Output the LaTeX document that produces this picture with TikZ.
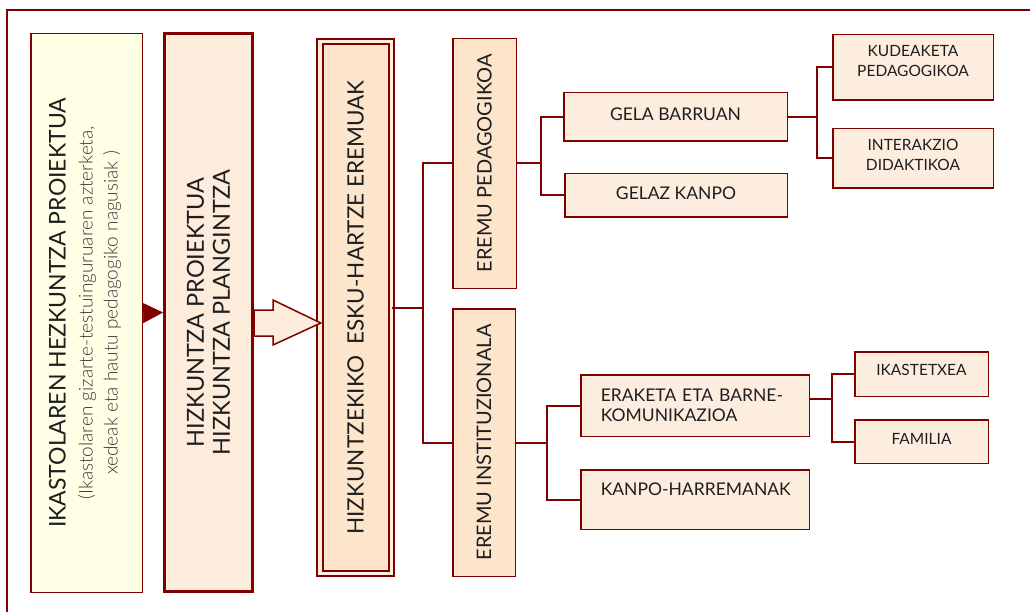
\documentclass[tikz,border=0pt]{standalone}
\usepackage{fontspec}
\setmainfont{Lato}
\newfontfamily\lightfont{Lato Light}
\usetikzlibrary{arrows.meta,calc}

\definecolor{frame}{HTML}{800000}
\definecolor{ink}{HTML}{1E1E1E}
\definecolor{softink}{HTML}{3A3A3A}
\definecolor{cream}{HTML}{FFFFE6}
\definecolor{peach}{HTML}{FDEBDC}
\definecolor{peachdeep}{HTML}{FDE5CC}
\definecolor{peachgap}{HTML}{FDEEDF}
\definecolor{peachsoft}{HTML}{FDEDDF}

% raise a piece of text without changing the space it takes
\newcommand{\lift}[2]{\raisebox{#1}[\height][\depth]{#2}}
\newcommand{\fs}[2]{\fontsize{#1}{#2}\selectfont}

\begin{document}
\begin{tikzpicture}[x=1pt,y=-1pt,
  box/.style={draw=frame, line width=1.5pt, fill=peachsoft, text=ink,
    inner sep=0pt, align=center},
  upright/.style={rotate=90},
  conn/.style={draw=frame, line width=2pt},
  big/.style={font=\fs{20}{26}},
  mid/.style={font=\fs{17.5}{20}},
  small/.style={font=\fs{15.5}{20}}]

\useasboundingbox (0,0) rectangle (1030,612);
\fill[white] (0,0) rectangle (1030,612);

% outer frame, open to the right and below
\draw[frame, line width=2pt] (6.5,612) -- (6.5,10) -- (1030,10);

% main column of boxes
\node[box, upright, fill=cream, font=\fs{19}{25},
  minimum width=558.5, minimum height=111.5]
  (proj) at (86.5,313)
  {\begin{tabular}{@{}c@{}}
   \fs{23}{25}IKASTOLAREN HEZKUNTZA PROIEKTUA\\[2pt]
   \lightfont\color{softink}(Ikastolaren gizarte-testuinguruaren azterketa,\\
   \lightfont\color{softink}xedeak eta hautu pedagogiko nagusiak )
   \end{tabular}};

\node[box, upright, font=\fs{23.5}{26}, fill=peach, line width=3pt,
  minimum width=558, minimum height=88]
  (plan) at (208.5,312.5) {HIZKUNTZA PROIEKTUA\\HIZKUNTZA PLANGINTZA};

\node[box, upright, font=\fs{22.5}{26}, fill=peachdeep, line width=2pt,
  double=peachgap, double distance=3.5pt,
  minimum width=531.5, minimum height=71.5]
  (eremuak) at (355.5,307.5) {HIZKUNTZEKIKO\ \ ESKU-HARTZE EREMUAK};

% the two fields
\node[box, upright, big, fill=peachdeep, minimum width=249.5, minimum height=63.5]
  (ped) at (484.5,163.5) {EREMU PEDAGOGIKOA};
\node[box, upright, big, fill=peachdeep, minimum width=267.5, minimum height=62.5]
  (inst) at (484,442.5) {EREMU INSTITUZIONALA};

% pedagogical branch
\node[box, mid, minimum width=223.5, minimum height=48.5]
  (barruan) at (675.5,117) {\lift{2.5pt}{GELA BARRUAN}};
\node[box, mid, minimum width=222.5, minimum height=43.5]
  (kanpo) at (676,195.5) {\lift{2.5pt}{GELAZ KANPO}};
\node[box, small, minimum width=160.5, minimum height=65.5]
  (kudeaketa) at (913,67.5)
  {\lift{5pt}{\begin{tabular}{@{}c@{}}KUDEAKETA\\PEDAGOGIKOA\end{tabular}}};
\node[box, small, minimum width=160.5, minimum height=59.5]
  (interakzio) at (913,158.5)
  {\lift{1.5pt}{\begin{tabular}{@{}c@{}}INTERAKZIO\\DIDAKTIKOA\end{tabular}}};

% institutional branch
\node[box, mid, align=left, inner xsep=20pt, text width=188.5,
  minimum width=228.5, minimum height=61.5]
  (eraketa) at (695,405.5) {ERAKETA ETA BARNE-\\KOMUNIKAZIOA};
\node[box, mid, align=left, inner xsep=20pt, text width=188.5,
  minimum width=228.5, minimum height=59.5]
  (harremanak) at (695,499.5) {\lift{10pt}{KANPO-HARREMANAK}};
\node[box, small, minimum width=133.5, minimum height=44.5]
  (ikastetxea) at (921.5,374) {\lift{4pt}{IKASTETXEA}};
\node[box, small, minimum width=133.5, minimum height=43.5]
  (familia) at (921.5,441.5) {\lift{2.5pt}{FAMILIA}};

% arrows between the main boxes (north is the left side of an upright box)
\draw[frame, line width=0.5pt, -{Triangle[length=20pt,width=20pt]}]
  (proj.south) -- (plan.north);
\draw[frame, line width=1.5pt, fill=peach, line join=miter]
  (plan.south |- 0,310) -- (273,310) -- (273,300)
  -- ($(eremuak.north |- 0,323)+(2,0)$)
  -- (273,345) -- (273,336) -- (plan.south |- 0,336) -- cycle;

% branch trunks
\coordinate (t1) at (423,0);
\coordinate (t2) at (541,0);
\coordinate (t3) at (817,0);
\coordinate (t4) at (547,0);
\coordinate (t5) at (832,0);

\draw[conn] (eremuak.south) -- (eremuak.south -| t1);
\draw[conn] (ped.north) -- (ped.north -| t1) -- (inst.north -| t1) -- (inst.north);

\draw[conn] (ped.south) -- (ped.south -| t2);
\draw[conn] (barruan.west) -- (barruan.west -| t2) -- (kanpo.west -| t2) -- (kanpo.west);

\draw[conn] (barruan.east) -- (barruan.east -| t3);
\draw[conn] (kudeaketa.west) -- (kudeaketa.west -| t3) -- (interakzio.west -| t3) -- (interakzio.west);

\draw[conn] (inst.south) -- (inst.south -| t4);
\draw[conn] (eraketa.west) -- (eraketa.west -| t4) -- (harremanak.west -| t4) -- (harremanak.west);

\draw[conn] ([yshift=6.5pt]eraketa.east) -- ([yshift=6.5pt]eraketa.east -| t5);
\draw[conn] (ikastetxea.west) -- (ikastetxea.west -| t5) -- (familia.west -| t5) -- (familia.west);
\end{tikzpicture}
\end{document}
